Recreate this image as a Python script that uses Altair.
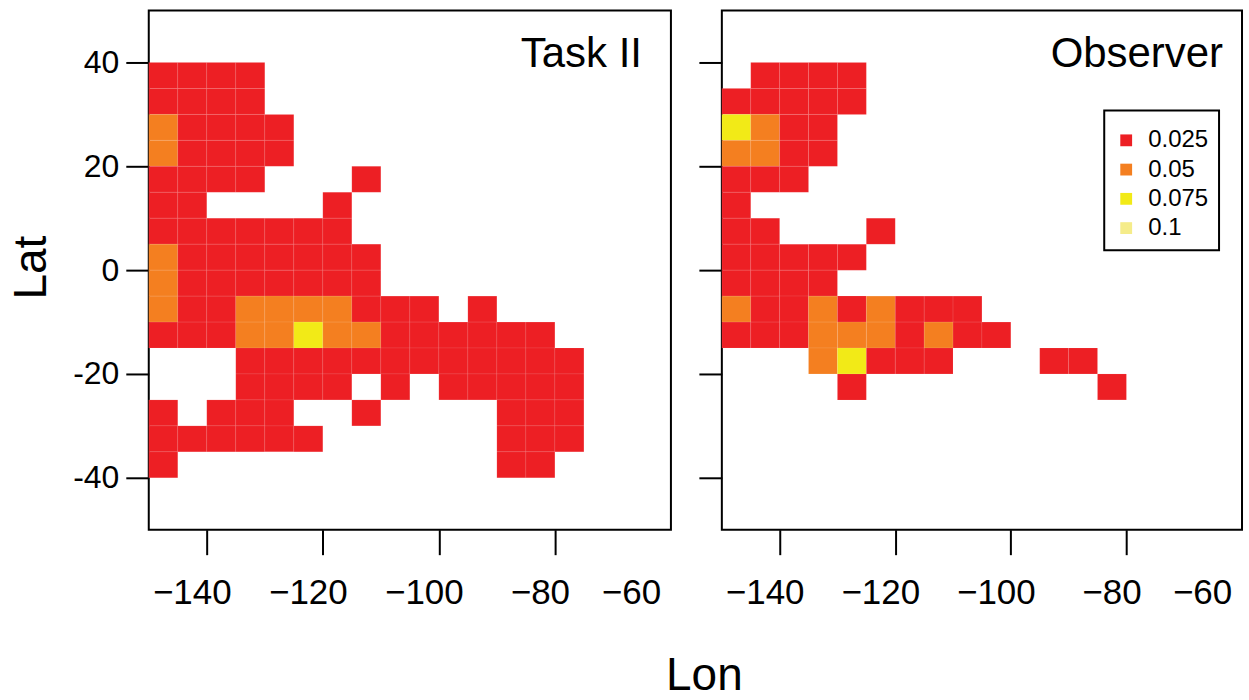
import altair as alt
import pandas as pd

FONT = "Liberation Sans"

LEVEL_LABELS = ["0.025", "0.05", "0.075", "0.1"]
LEVEL_COLORS = ["#ED1F24", "#F47F20", "#F2EA17", "#F5EC8A"]
PANEL_TITLES = ["Task II", "Observer"]
X_TICKS = [-140, -120, -100, -80, -60]
Y_TICKS = [-40, -20, 0, 20, 40]
X_DOMAIN = [-150, -60]
Y_DOMAIN = [-50, 50]
CELL = 5

# lat (south edge) -> list of (lon west edge, level code 1..4)
TASK_ROWS = {
    35: [(-150, 1), (-145, 1), (-140, 1), (-135, 1)],
    30: [(-150, 1), (-145, 1), (-140, 1), (-135, 1)],
    25: [(-150, 2), (-145, 1), (-140, 1), (-135, 1), (-130, 1)],
    20: [(-150, 2), (-145, 1), (-140, 1), (-135, 1), (-130, 1)],
    15: [(-150, 1), (-145, 1), (-140, 1), (-135, 1), (-115, 1)],
    10: [(-150, 1), (-145, 1), (-120, 1)],
    5: [(-150, 1), (-145, 1), (-140, 1), (-135, 1), (-130, 1), (-125, 1), (-120, 1)],
    0: [(-150, 2), (-145, 1), (-140, 1), (-135, 1), (-130, 1), (-125, 1), (-120, 1), (-115, 1)],
    -5: [(-150, 2), (-145, 1), (-140, 1), (-135, 1), (-130, 1), (-125, 1), (-120, 1), (-115, 1)],
    -10: [(-150, 2), (-145, 1), (-140, 1), (-135, 2), (-130, 2), (-125, 2), (-120, 2),
          (-115, 1), (-110, 1), (-105, 1), (-95, 1)],
    -15: [(-150, 1), (-145, 1), (-140, 1), (-135, 2), (-130, 2), (-125, 3), (-120, 2),
          (-115, 2), (-110, 1), (-105, 1), (-100, 1), (-95, 1), (-90, 1), (-85, 1)],
    -20: [(-135, 1), (-130, 1), (-125, 1), (-120, 1), (-115, 1), (-110, 1), (-105, 1),
          (-100, 1), (-95, 1), (-90, 1), (-85, 1), (-80, 1)],
    -25: [(-135, 1), (-130, 1), (-125, 1), (-120, 1), (-110, 1), (-100, 1), (-95, 1),
          (-90, 1), (-85, 1), (-80, 1)],
    -30: [(-150, 1), (-140, 1), (-135, 1), (-130, 1), (-115, 1), (-90, 1), (-85, 1), (-80, 1)],
    -35: [(-150, 1), (-145, 1), (-140, 1), (-135, 1), (-130, 1), (-125, 1),
          (-90, 1), (-85, 1), (-80, 1)],
    -40: [(-150, 1), (-90, 1), (-85, 1)],
}

OBS_ROWS = {
    35: [(-145, 1), (-140, 1), (-135, 1), (-130, 1)],
    30: [(-150, 1), (-145, 1), (-140, 1), (-135, 1), (-130, 1)],
    25: [(-150, 3), (-145, 2), (-140, 1), (-135, 1)],
    20: [(-150, 2), (-145, 2), (-140, 1), (-135, 1)],
    15: [(-150, 1), (-145, 1), (-140, 1)],
    10: [(-150, 1)],
    5: [(-150, 1), (-145, 1), (-125, 1)],
    0: [(-150, 1), (-145, 1), (-140, 1), (-135, 1), (-130, 1)],
    -5: [(-150, 1), (-145, 1), (-140, 1), (-135, 1)],
    -10: [(-150, 2), (-145, 1), (-140, 1), (-135, 2), (-130, 1), (-125, 2),
          (-120, 1), (-115, 1), (-110, 1)],
    -15: [(-150, 1), (-145, 1), (-140, 1), (-135, 2), (-130, 2), (-125, 2),
          (-120, 1), (-115, 2), (-110, 1), (-105, 1)],
    -20: [(-135, 2), (-130, 3), (-125, 1), (-120, 1), (-115, 1), (-95, 1), (-90, 1)],
    -25: [(-130, 1), (-85, 1)],
}


def to_frame(rows):
    recs = []
    for lat, cells in rows.items():
        for lon, lev in cells:
            recs.append({"lon": lon, "lat": lat, "level": LEVEL_LABELS[lev - 1]})
    return pd.DataFrame(recs)


def x_axis(title):
    kw = dict(
        values=X_TICKS,
        labelFontSize=35,
        labelPadding=21,
        labelFlush=False,
        labelOverlap=False,
        labelOffset={"condition": {"test": "datum.value == -60", "value": -40}, "value": -15},
        tickSize=25,
        tickWidth=2,
        tickColor={"condition": {"test": "datum.value == -60", "value": "transparent"}, "value": "black"},
        domain=False,
        grid=False,
    )
    if title:
        kw.update(title=title, titleX=556, titleY=160, titleAlign="center",
                  titleBaseline="alphabetic", titleFontSize=46)
    else:
        kw.update(title=None)
    return alt.Axis(**kw)


def y_axis(show):
    kw = dict(values=Y_TICKS, tickSize=23, tickWidth=2, tickColor="black", domain=False,
              grid=False, labelFlush=False, labelOverlap=False)
    if show:
        kw.update(title="Lat", titleX=-103, titleY=257, titleAngle=270, titleAlign="center",
                  titleBaseline="alphabetic", titleFontSize=46, labelFontSize=32,
                  labelPadding=7,
                  labelExpr="datum.value < 0 ? '-' + abs(datum.value) : '' + datum.value")
    else:
        kw.update(title=None, labels=False)
    return alt.Axis(**kw)


def panel(rows, title, width, show_y, legend, text_x, x_title):
    df = to_frame(rows)
    rects = alt.Chart(df).mark_rect(
        stroke="white", strokeWidth=0.7, strokeOpacity=0.12
    ).transform_calculate(
        lon2=f"datum.lon + {CELL}", lat2=f"datum.lat + {CELL}"
    ).encode(
        x=alt.X("lon:Q", scale=alt.Scale(domain=X_DOMAIN, nice=False, zero=False), axis=x_axis(x_title)),
        x2="lon2:Q",
        y=alt.Y("lat:Q", scale=alt.Scale(domain=Y_DOMAIN, nice=False, zero=False), axis=y_axis(show_y)),
        y2="lat2:Q",
        color=alt.Color("level:N", scale=alt.Scale(domain=LEVEL_LABELS, range=LEVEL_COLORS),
                        legend=legend),
    )
    text = alt.Chart(pd.DataFrame({"t": [title]})).mark_text(
        align="right", baseline="alphabetic", fontSize=42, font=FONT, color="black"
    ).encode(text="t:N", x=alt.value(text_x), y=alt.value(57))
    return alt.layer(rects, text).properties(width=width, height=520)


legend = alt.Legend(
    orient="none", legendX=383, legendY=100,
    title=" ", titleFontSize=2, titlePadding=6,
    symbolType="square", symbolSize=140, symbolStrokeWidth=0, symbolOpacity=1,
    labelFontSize=24, labelFont=FONT, labelColor="black",
    strokeColor="black", fillColor="white", padding=10, rowPadding=5.3, labelOffset=10,
)

left = panel(TASK_ROWS, PANEL_TITLES[0], 523, True, None, 494, "Lon")
right = panel(OBS_ROWS, PANEL_TITLES[1], 521, False, legend, 502, None)

chart = alt.hconcat(
    left, right, spacing=51, bounds="flush",
    padding={"left": 8, "top": 9, "right": 5, "bottom": 0},
).resolve_scale(color="independent").configure_view(
    stroke="black", strokeWidth=2
).configure_axis(
    labelFont=FONT, titleFont=FONT, labelColor="black", titleColor="black",
    titleFontWeight="normal", tickColor="black",
).configure_legend(strokeWidth=2)

chart.save("out.html", embed_options={"renderer": "svg", "actions": False})
